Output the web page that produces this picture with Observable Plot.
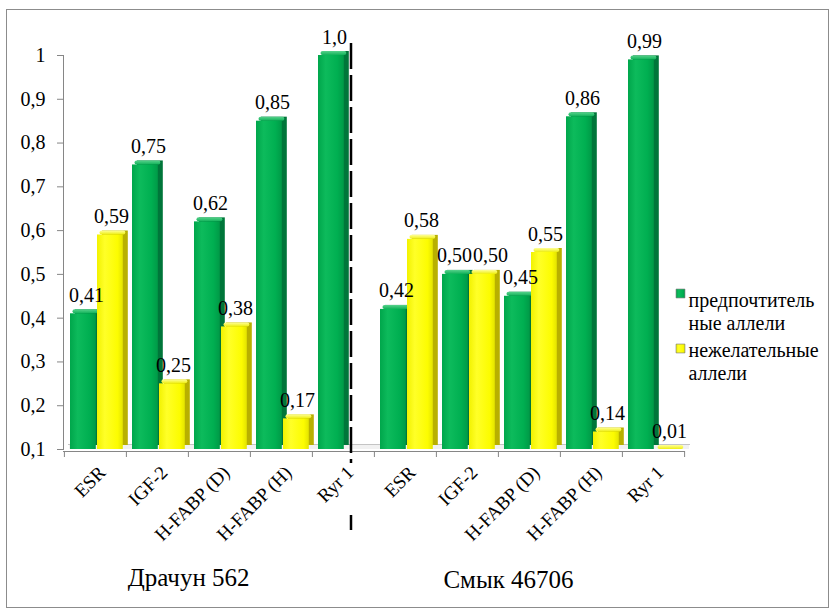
<!DOCTYPE html>
<html>
<head>
<meta charset="utf-8">
<script src="https://cdn.jsdelivr.net/npm/d3@7"></script>
<script src="https://cdn.jsdelivr.net/npm/@observablehq/plot@0.6"></script>
<style>
  html, body { margin: 0; padding: 0; background: #fff; }
  #chart { position: relative; width: 833px; height: 615px; }
  #chart .border {
    position: absolute; left: 6px; top: 9px; width: 823px; height: 599px;
    box-sizing: border-box; border: 1.5px solid #8c8c8c; pointer-events: none; z-index: 1;
  }
  #chart svg text { fill: #000; }
</style>
</head>
<body>
<div id="chart"><div class="border"></div></div>
<script>
// Allele frequencies for two boars, five genes each
const groups = ["Драчун 562", "Смык 46706"];
const genes = ["ESR", "IGF-2", "H-FABP (D)", "H-FABP (H)", "Ryr 1"];
const seriesNames = ["предпочтительные аллели", "нежелательные аллели"];
const legendLines = ["предпочтитель\nные аллели", "нежелательные\nаллели"];

const drachunPreferred = [0.41, 0.75, 0.62, 0.85, 1.0];
const drachunUndesired = [0.59, 0.25, 0.38, 0.17, null];
const smykPreferred = [0.42, 0.50, 0.45, 0.86, 0.99];
const smykUndesired = [0.58, 0.50, 0.55, 0.14, 0.01];

const yTicks = [0.1, 0.2, 0.3, 0.4, 0.5, 0.6, 0.7, 0.8, 0.9, 1];

// Long-form rows for the bars
const seriesByGroup = [[drachunPreferred, drachunUndesired], [smykPreferred, smykUndesired]];
const keyOf = (group, gene) => `${group}|${gene}`;
const categories = groups.flatMap(g => genes.map(gene => keyOf(g, gene)));
const rows = [];
groups.forEach((g, gi) => {
  genes.forEach((gene, j) => {
    const [a, b] = seriesByGroup[gi].map(s => s[j]);
    // labels of two nearly equal bars are pushed apart
    const crowded = a != null && b != null && Math.abs(a - b) < 0.03;
    seriesNames.forEach((s, si) => {
      const v = seriesByGroup[gi][si][j];
      if (v != null) rows.push({key: keyOf(g, gene), group: g, gene, series: s, value: v, crowded});
    });
  });
});

// Layout
const width = 833, height = 615;
const marginLeft = 63, marginRight = 148, marginTop = 55, marginBottom = 166;
const innerH = height - marginTop - marginBottom;
const step = (width - marginLeft - marginRight) / categories.length;
const serif = "Liberation Serif, Times New Roman, serif";

const fmt = v => v === 1 ? "1,0" : d3.format(".2f")(v).replace(".", ",");
const tickFmt = v => v === 1 ? "1" : d3.format(".1f")(v).replace(".", ",");

// Appearance of each series: front face, top cap, side face, placement within a category
const look = [
  {front: "url(#front-0)", cap: "url(#cap-0)", side: "#00763a", left: 6, right: step - 32, labelDx: -9, spreadDx: -13},
  {front: "url(#front-1)", cap: "url(#cap-1)", side: "#b8b000", left: 33, right: step - 59, labelDx: 16, spreadDx: 23}
];

function gradients() {
  const defs = d3.create("svg:defs");
  const add = (id, horizontal, stops) => {
    const g = defs.append("linearGradient").attr("id", id)
      .attr("x1", 0).attr("y1", 0).attr("x2", horizontal ? 1 : 0).attr("y2", horizontal ? 0 : 1);
    stops.forEach(([o, c]) => g.append("stop").attr("offset", o).attr("stop-color", c));
  };
  add("front-0", true, [[0, "#00a64b"], [0.3, "#0dbb5c"], [0.75, "#00af51"], [1, "#009a47"]]);
  add("front-1", true, [[0, "#f2f200"], [0.3, "#ffff28"], [0.8, "#fcfc00"], [1, "#e4e400"]]);
  add("cap-0", false, [[0, "#58d28c"], [1, "#12b25a"]]);
  add("cap-1", false, [[0, "#ffff9a"], [1, "#eeee10"]]);
  return defs.node();
}

const depthMarks = [], capMarks = [], frontMarks = [], labelMarks = [];
seriesNames.forEach((s, i) => {
  const data = rows.filter(r => r.series === s);
  const L = look[i];
  depthMarks.push(Plot.barY(data, {
    x: "key", y1: 0.1, y2: "value", insetLeft: L.left, insetRight: L.right,
    dx: 5, dy: -4, fill: L.side
  }));
  capMarks.push(Plot.barY(data, {
    x: "key", y1: "value", y2: "value", insetTop: -4, insetLeft: L.left, insetRight: L.right,
    dx: 2.5, fill: L.cap, rx: 2
  }));
  frontMarks.push(Plot.barY(data, {
    x: "key", y1: 0.1, y2: "value", insetLeft: L.left, insetRight: L.right, fill: L.front
  }));
  labelMarks.push(Plot.text(data.filter(d => !d.crowded), {
    x: "key", y: "value", text: d => fmt(d.value), dx: L.labelDx, dy: -12,
    lineAnchor: "bottom", fontSize: 20, fontFamily: serif
  }));
  labelMarks.push(Plot.text(data.filter(d => d.crowded), {
    x: "key", y: "value", text: d => fmt(d.value), dx: L.spreadDx, dy: -12,
    lineAnchor: "bottom", fontSize: 20, fontFamily: serif
  }));
});

const legendMarks = seriesNames.flatMap((s, i) => [
  Plot.dot([s], {
    frameAnchor: "top-right", dx: -5, dy: 238 + 55 * i, symbol: "square", r: 5,
    fill: look[i].front, stroke: "#707070", strokeWidth: 0.6
  }),
  Plot.text([legendLines[i]], {
    frameAnchor: "top-right", text: d => d, textAnchor: "start", lineAnchor: "top",
    dx: 3, dy: 236 + 50 * i, fontSize: 20, lineHeight: 1.12, fontFamily: serif
  })
]);

const lastKey = categories[categories.length - 1];
const divider = keyOf(groups[0], genes[genes.length - 1]);

const chart = Plot.plot({
  width, height, marginLeft, marginRight, marginTop, marginBottom,
  style: {fontFamily: serif, fontSize: "20px", color: "#868686", background: "#fff"},
  x: {type: "band", domain: categories, padding: 0, axis: null},
  y: {domain: [0.1, 1], clamp: true, ticks: yTicks, tickFormat: tickFmt, tickSize: 6, tickPadding: 12, line: true, label: null},
  marks: [
    gradients,
    // floor slab under the bars
    Plot.barY(categories, {x: d => d, y1: 0.1, y2: 0.1, insetTop: -5, dx: 5, fill: "#f1f1f1"}),
    Plot.ruleY([0.1], {dx: 5, dy: -5, stroke: "#c4c4c4"}),
    Plot.ruleY([0.1], {dy: 2, stroke: "#868686", strokeWidth: 1.2}),
    // category boundary ticks
    Plot.ruleX(categories, {x: d => d, dx: -step / 2, insetTop: innerH + 2, insetBottom: -8, stroke: "#868686"}),
    Plot.ruleX([lastKey], {x: d => d, dx: step / 2, insetTop: innerH + 2, insetBottom: -8, stroke: "#868686"}),
    ...depthMarks,
    ...capMarks,
    ...frontMarks,
    ...labelMarks,
    // separator between the two boars
    Plot.ruleX([divider], {x: d => d, dx: 7.5, insetTop: -12, insetBottom: -14, stroke: "#000", strokeWidth: 2.5, strokeDasharray: "26,6"}),
    Plot.ruleX([divider], {x: d => d, dx: 7.5, insetTop: innerH + 66, insetBottom: -81, stroke: "#000", strokeWidth: 2.5}),
    // gene names under each category
    Plot.text(categories, {
      x: d => d, text: d => d.split("|")[1], frameAnchor: "bottom", rotate: -45,
      textAnchor: "end", lineAnchor: "middle", dx: 7, dy: 20, fontSize: 19, fontFamily: serif
    }),
    // boar names
    Plot.text([groups[0]], {x: d => keyOf(d, genes[1]), text: d => d, frameAnchor: "bottom", dx: step / 2, dy: 128, lineAnchor: "middle", fontSize: 25, fontFamily: serif}),
    Plot.text([groups[1]], {x: d => keyOf(d, genes[2]), text: d => d, frameAnchor: "bottom", dx: -21, dy: 130, lineAnchor: "middle", fontSize: 25, fontFamily: serif}),
    ...legendMarks
  ]
});

// axis tick labels share the serif face
d3.select(chart).attr("font-family", serif).selectAll("text").attr("font-family", serif);
document.getElementById("chart").appendChild(chart);
</script>
</body>
</html>
